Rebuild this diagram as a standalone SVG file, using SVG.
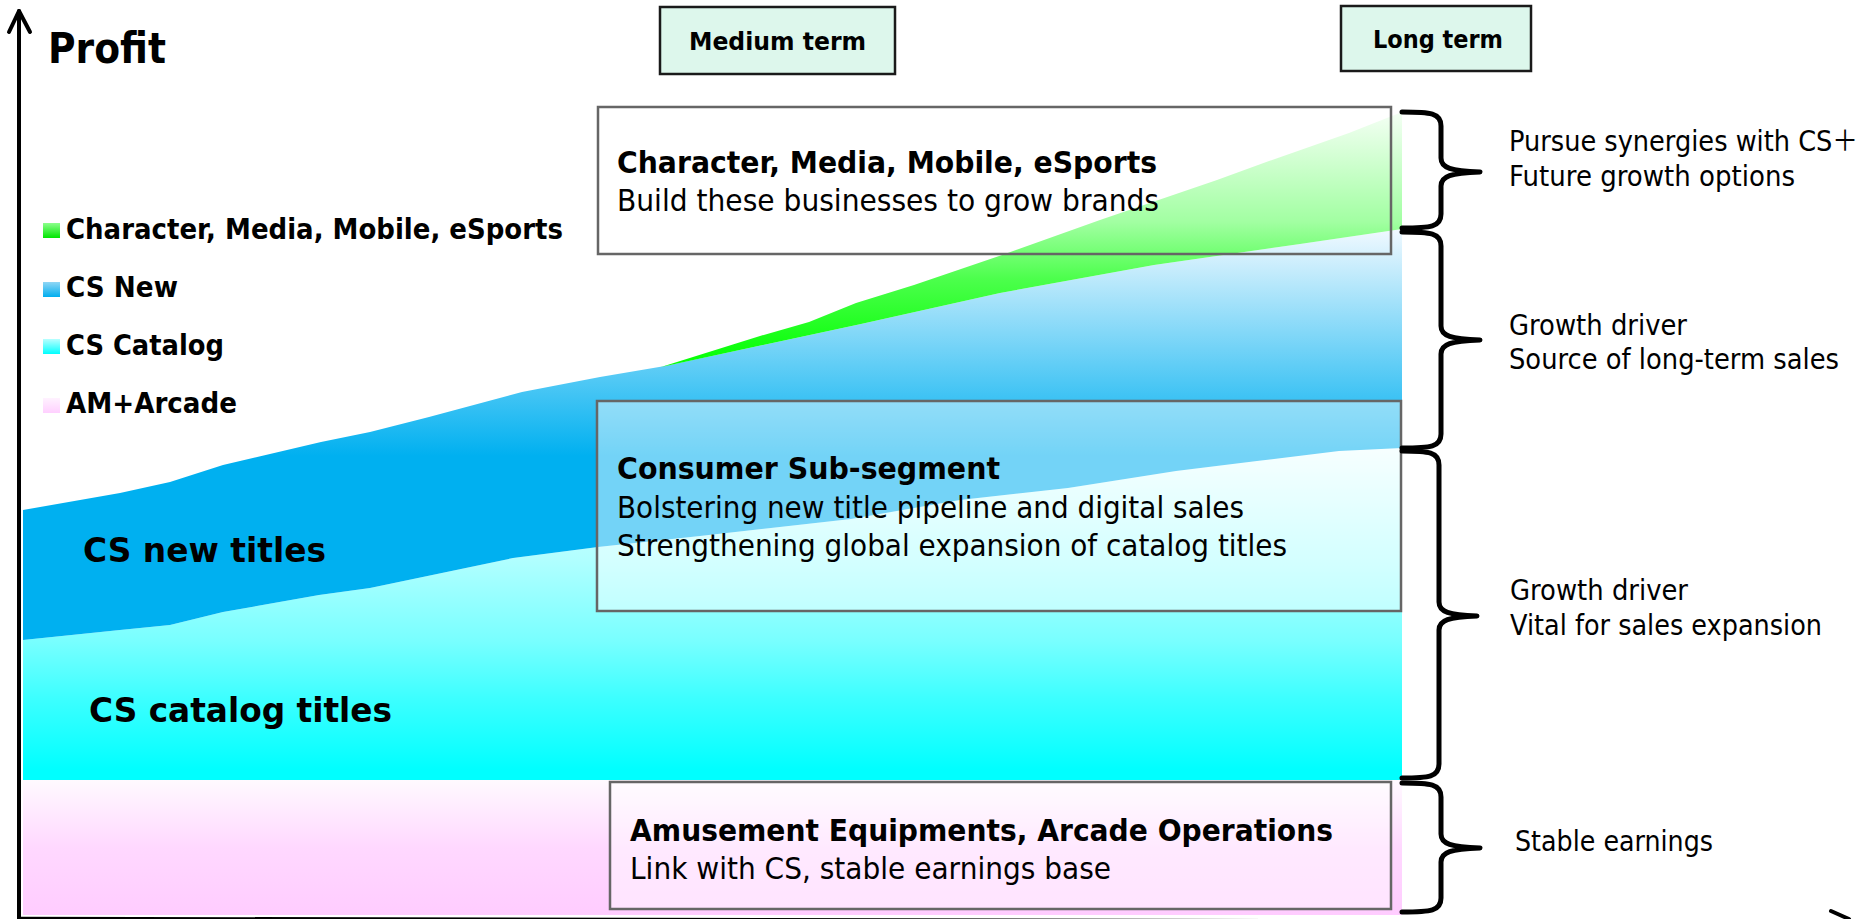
<svg xmlns="http://www.w3.org/2000/svg" width="1875" height="919" viewBox="0 0 1875 919">
  <style>
    .b { font-family: 'DejaVu Sans', 'Liberation Sans', 'Noto Sans CJK JP', sans-serif; font-weight: bold; fill: #000; }
    .r { font-family: 'DejaVu Sans', 'Liberation Sans', 'Noto Sans CJK JP', sans-serif; font-weight: normal; fill: #000; }
    .frame { fill: none; stroke: #666; stroke-width: 2.5; }
    .veil { fill: #fff; fill-opacity: 0.45; stroke: #666; stroke-width: 2.5; }
    .tag { fill: #DDF7EC; stroke: #1a1a1a; stroke-width: 2.5; }
    .brace { fill: none; stroke: #000; stroke-width: 5; stroke-linejoin: round; stroke-linecap: round; }
    .axis { fill: none; stroke: #000; stroke-width: 4; stroke-linecap: round; stroke-linejoin: round; }
  </style>
  <defs>
    <linearGradient id="gGreen" gradientUnits="userSpaceOnUse" x1="0" y1="110" x2="0" y2="370">
      <stop offset="0" stop-color="#F6FFF6"/>
      <stop offset="0.43" stop-color="#A2FFA2"/>
      <stop offset="0.65" stop-color="#4CFF4C"/>
      <stop offset="0.9" stop-color="#12FF12"/>
      <stop offset="1" stop-color="#00FF00"/>
    </linearGradient>
    <linearGradient id="gBlue" gradientUnits="userSpaceOnUse" x1="0" y1="226" x2="0" y2="456">
      <stop offset="0" stop-color="#F4FAFF"/>
      <stop offset="1" stop-color="#00B0F0"/>
    </linearGradient>
    <linearGradient id="gCyan" gradientUnits="userSpaceOnUse" x1="0" y1="448" x2="0" y2="770">
      <stop offset="0" stop-color="#F0FFFF"/>
      <stop offset="0.35" stop-color="#B0FFFF"/>
      <stop offset="0.6" stop-color="#78FFFF"/>
      <stop offset="0.78" stop-color="#3CFFFF"/>
      <stop offset="1" stop-color="#00FFFF"/>
    </linearGradient>
    <linearGradient id="gPink" gradientUnits="userSpaceOnUse" x1="0" y1="780" x2="0" y2="915">
      <stop offset="0" stop-color="#FFFAFF"/>
      <stop offset="0.5" stop-color="#FFD8FF"/>
      <stop offset="1" stop-color="#FFCCFF"/>
    </linearGradient>
    <linearGradient id="sqGreen" x1="0" y1="0" x2="0" y2="1">
      <stop offset="0" stop-color="#8CFF8C"/>
      <stop offset="1" stop-color="#00E600"/>
    </linearGradient>
    <linearGradient id="sqBlue" x1="0" y1="0" x2="0" y2="1">
      <stop offset="0" stop-color="#8FD6F5"/>
      <stop offset="1" stop-color="#00AEEF"/>
    </linearGradient>
    <linearGradient id="sqCyan" x1="0" y1="0" x2="0" y2="1">
      <stop offset="0" stop-color="#B8FFFF"/>
      <stop offset="1" stop-color="#00FFFF"/>
    </linearGradient>
    <linearGradient id="sqPink" x1="0" y1="0" x2="0" y2="1">
      <stop offset="0" stop-color="#FFF2FF"/>
      <stop offset="1" stop-color="#FFD0FF"/>
    </linearGradient>
  </defs>

  <rect width="1875" height="919" fill="#fff"/>

  <!-- stacked profit areas -->
  <g id="areas">
    <rect id="area-am" x="23" y="780" width="1379" height="135" fill="url(#gPink)"/>
    <path id="area-catalog" fill="url(#gCyan)" d="M23,640 L120,630 L170,625 L223,612 L319,595 L370,588 L513,558 L598,547 L700,536 L851,519 L960,500 L1068,488 L1176,471 L1257,461 L1339,451 L1402,448 L1402,780 L23,780 Z"/>
    <path id="area-new" fill="url(#gBlue)" d="M23,510 L120,493 L170,482 L223,465 L321,442 L370,432 L429,417 L522,392 L600,377 L665,366 L861,324 L1000,293 L1154,265 L1300,244 L1402,229 L1402,448 L1339,451 L1257,461 L1176,471 L1068,488 L960,500 L851,519 L700,536 L598,547 L513,558 L370,588 L319,595 L223,612 L170,625 L120,630 L23,640 Z"/>
    <path id="area-growth" fill="url(#gGreen)" d="M661,367 L760,336 L809,322 L856,303 L914,285 L1005,254 L1100,220 L1217,180 L1269,161 L1349,133 L1402,112 L1402,229 L1300,244 L1154,265 L1000,293 L861,324 Z"/>
  </g>

  <!-- axes -->
  <g id="axes">
    <path class="axis" d="M19,919 L19,11"/>
    <path class="axis" d="M9,32 L19,11 L30,32"/>
    <path class="axis" d="M19,918.7 L1852,922"/>
    <path class="axis" d="M1831,911 L1849,919"/>
  </g>

  <g id="axis-title">
    <text class="b" x="48" y="63" font-size="42" textLength="118" lengthAdjust="spacingAndGlyphs">Profit</text>
  </g>

  <!-- legend -->
  <g id="legend">
    <rect x="43" y="223" width="17" height="15" fill="url(#sqGreen)"/>
    <text class="b" x="66" y="239" font-size="28" textLength="497" lengthAdjust="spacingAndGlyphs">Character, Media, Mobile, eSports</text>
    <rect x="43" y="282" width="17" height="15" fill="url(#sqBlue)"/>
    <text class="b" x="66" y="297" font-size="28" textLength="112" lengthAdjust="spacingAndGlyphs">CS New</text>
    <rect x="43" y="339" width="17" height="15" fill="url(#sqCyan)"/>
    <text class="b" x="66" y="355" font-size="28" textLength="158" lengthAdjust="spacingAndGlyphs">CS Catalog</text>
    <rect x="43" y="398" width="17" height="15" fill="url(#sqPink)"/>
    <text class="b" x="66" y="413" font-size="28" textLength="171" lengthAdjust="spacingAndGlyphs">AM+Arcade</text>
  </g>

  <!-- area labels -->
  <g id="label-new">
    <text class="b" x="83" y="562" font-size="34" textLength="243" lengthAdjust="spacingAndGlyphs">CS new titles</text>
  </g>
  <g id="label-catalog">
    <text class="b" x="89" y="722" font-size="34" textLength="303" lengthAdjust="spacingAndGlyphs">CS catalog titles</text>
  </g>

  <!-- horizon tags -->
  <g id="tag-medium">
    <rect class="tag" x="660" y="7" width="235" height="67"/>
    <text class="b" x="689" y="50" font-size="24" textLength="177" lengthAdjust="spacingAndGlyphs">Medium term</text>
  </g>
  <g id="tag-long">
    <rect class="tag" x="1341" y="6" width="190" height="65"/>
    <text class="b" x="1373" y="48" font-size="24" textLength="130" lengthAdjust="spacingAndGlyphs">Long term</text>
  </g>

  <!-- segment boxes -->
  <g id="box-growth">
    <rect class="frame" x="598" y="107" width="793" height="147"/>
    <text class="b" x="617" y="173" font-size="30" textLength="540" lengthAdjust="spacingAndGlyphs">Character, Media, Mobile, eSports</text>
    <text class="r" x="617" y="211" font-size="30" textLength="542" lengthAdjust="spacingAndGlyphs">Build these businesses to grow brands</text>
  </g>
  <g id="box-consumer">
    <rect class="veil" x="597" y="401" width="804" height="210"/>
    <text class="b" x="617" y="479" font-size="30" textLength="383" lengthAdjust="spacingAndGlyphs">Consumer Sub-segment</text>
    <text class="r" x="617" y="518" font-size="30" textLength="627" lengthAdjust="spacingAndGlyphs">Bolstering new title pipeline and digital sales</text>
    <text class="r" x="617" y="556" font-size="30" textLength="670" lengthAdjust="spacingAndGlyphs">Strengthening global expansion of catalog titles</text>
  </g>
  <g id="box-am">
    <rect class="veil" x="610" y="782" width="781" height="127"/>
    <text class="b" x="630" y="841" font-size="30" textLength="703" lengthAdjust="spacingAndGlyphs">Amusement Equipments, Arcade Operations</text>
    <text class="r" x="630" y="879" font-size="30" textLength="481" lengthAdjust="spacingAndGlyphs">Link with CS, stable earnings base</text>
  </g>

  <!-- braces grouping the bands -->
  <g id="braces">
    <path class="brace" d="M1402,112 C1431,112 1441,113 1441,126 L1441,158 C1441,168 1451,171 1480,172 C1451,173 1441,176 1441,186 L1441,214 C1441,227 1431,228 1402,228"/>
    <path class="brace" d="M1402,232 C1431,232 1441,233 1441,246 L1441,326 C1441,336 1451,339 1480,340 C1451,341 1441,344 1441,354 L1441,434 C1441,447 1431,448 1402,448"/>
    <path class="brace" d="M1402,451 C1429,451 1439,452 1439,465 L1439,602 C1439,612 1449,615 1477,616 C1449,617 1439,620 1439,630 L1439,764 C1439,777 1429,778 1402,778"/>
    <path class="brace" d="M1402,783 C1431,783 1441,784 1441,797 L1441,834 C1441,844 1451,847 1480,848 C1451,849 1441,852 1441,862 L1441,898 C1441,911 1431,912 1402,912"/>
  </g>

  <!-- notes beside the braces -->
  <g id="note-growth">
    <text class="r" x="1509" y="151" font-size="28" textLength="349" lengthAdjust="spacingAndGlyphs">Pursue synergies with CS＋</text>
    <text class="r" x="1509" y="186" font-size="28" textLength="286" lengthAdjust="spacingAndGlyphs">Future growth options</text>
  </g>
  <g id="note-new">
    <text class="r" x="1509" y="335" font-size="28" textLength="178" lengthAdjust="spacingAndGlyphs">Growth driver</text>
    <text class="r" x="1509" y="369" font-size="28" textLength="330" lengthAdjust="spacingAndGlyphs">Source of long-term sales</text>
  </g>
  <g id="note-catalog">
    <text class="r" x="1510" y="600" font-size="28" textLength="178" lengthAdjust="spacingAndGlyphs">Growth driver</text>
    <text class="r" x="1510" y="635" font-size="28" textLength="312" lengthAdjust="spacingAndGlyphs">Vital for sales expansion</text>
  </g>
  <g id="note-am">
    <text class="r" x="1515" y="851" font-size="28" textLength="198" lengthAdjust="spacingAndGlyphs">Stable earnings</text>
  </g>
</svg>
